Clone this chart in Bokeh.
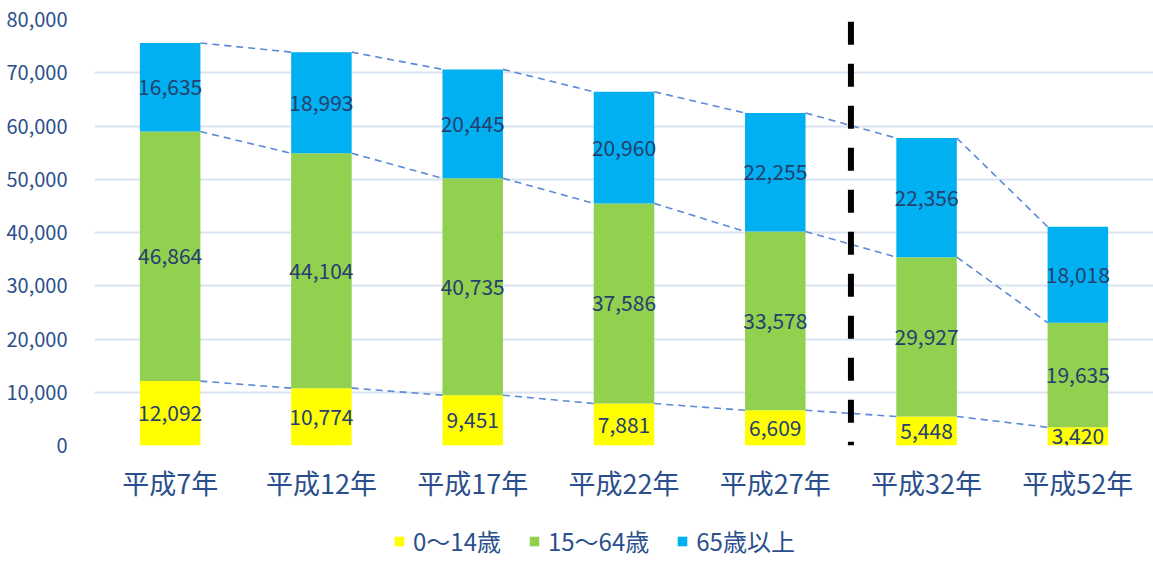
from bokeh.plotting import figure
from bokeh.layouts import column
from bokeh.models import FactorRange, Range1d, NumeralTickFormatter, Legend, LegendItem, ColumnDataSource, SingleIntervalTicker
from bokeh.core.properties import value
from bokeh.embed import file_html
from bokeh.resources import INLINE

categories = ["平成7年", "平成12年", "平成17年", "平成22年", "平成27年", "平成32年", "平成52年"]
age_0_14 = [12092, 10774, 9451, 7881, 6609, 5448, 3420]
age_15_64 = [46864, 44104, 40735, 37586, 33578, 29927, 19635]
age_65_over = [16635, 18993, 20445, 20960, 22255, 22356, 18018]
series_names = ["0～14歳", "15～64歳", "65歳以上"]
colors = ["#FFFF00", "#92D050", "#00B0F0"]

FONT = "Noto Sans CJK JP"
AXIS_COLOR = "#2B4F8C"
LABEL_COLOR = "#263F6E"

p = figure(x_range=FactorRange(*categories, range_padding=0), y_range=Range1d(0, 80000),
           width=1153, height=508, output_backend="svg", toolbar_location=None,
           min_border_left=94, min_border_right=0, min_border_top=19, min_border_bottom=63)
p.outline_line_color = None
p.background_fill_color = "white"

src = ColumnDataSource(dict(cat=categories, a=age_0_14, b=age_15_64, c=age_65_over))
renderers = p.vbar_stack(["a", "b", "c"], x="cat", width=0.4, source=src,
                         color=colors, line_color=None)

# dashed connector lines between bar tops (bar half-width 0.2 in synthetic units)
tops1 = [a for a in age_0_14]
tops2 = [a + b for a, b in zip(age_0_14, age_15_64)]
tops3 = [a + b + c for a, b, c in zip(age_0_14, age_15_64, age_65_over)]
for tops in (tops1, tops2, tops3):
    xs, ys = [], []
    for i in range(len(categories) - 1):
        xs.append([i + 0.5 + 0.2, i + 1.5 - 0.2])
        ys.append([tops[i], tops[i + 1]])
    p.multi_line(xs, ys, line_color="#5B8AD6", line_width=1.6, line_dash="7 5")

# projection divider (drawn top-down so the dash pattern starts at the top)
p.line([5.0, 5.0], [79600, 0], line_color="black", line_width=6, line_dash="23 19")

# segment labels
for lows, vals in ((None, age_0_14), (tops1, age_15_64), (tops2, age_65_over)):
    ys = [(0 if lows is None else lows[i]) + v / 2 for i, v in enumerate(vals)]
    p.text(x=categories, y=ys, text=[f"{v:,}" for v in vals], text_align="center",
           text_baseline="middle", text_font=value(FONT), text_font_size="21px",
           text_color=LABEL_COLOR)

# axes
p.yaxis.ticker = SingleIntervalTicker(interval=10000)
p.yaxis.formatter = NumeralTickFormatter(format="0,0")
p.yaxis.axis_line_color = None
p.yaxis.major_tick_line_color = None
p.yaxis.minor_tick_line_color = None
p.yaxis.major_label_text_font = FONT
p.yaxis.major_label_text_font_size = "20px"
p.yaxis.major_label_text_color = AXIS_COLOR
p.yaxis.major_label_standoff = 21

p.xaxis.axis_line_color = None
p.xaxis.major_tick_line_color = None
p.xaxis.major_label_text_font = FONT
p.xaxis.major_label_text_font_size = "27px"
p.xaxis.major_label_text_color = AXIS_COLOR
p.xaxis.major_label_standoff = 11

p.xgrid.grid_line_color = None
p.ygrid.grid_line_color = "#D9E3F2"
p.ygrid.grid_line_width = 2

# legend strip below the chart (its frame is aligned with the chart frame at x=94)
lg = figure(width=1153, height=53, output_backend="svg", toolbar_location=None,
            x_axis_type=None, y_axis_type=None, min_border=0,
            x_range=Range1d(0, 1), y_range=Range1d(0, 1))
lg.outline_line_color = None
lg.grid.grid_line_color = None
# off-screen proxy bars, only used so the legend can draw its colour swatches
legend_renderers = [lg.vbar(x=[-5], top=[-5], bottom=[-6], width=0.1, color=c, line_color=None)
                    for c in colors]
legend = Legend(items=[LegendItem(label=series_names[i], renderers=[legend_renderers[i]]) for i in range(3)],
                orientation="horizontal", location=(299, 3),
                glyph_width=12, glyph_height=12, label_standoff=8, spacing=27,
                label_text_font=FONT, label_text_font_size="24px", label_text_color=AXIS_COLOR,
                background_fill_alpha=0, border_line_color=None, padding=0, margin=0)
lg.add_layout(legend)

open("out.html", "w").write(file_html(column(p, lg, spacing=0), INLINE))
